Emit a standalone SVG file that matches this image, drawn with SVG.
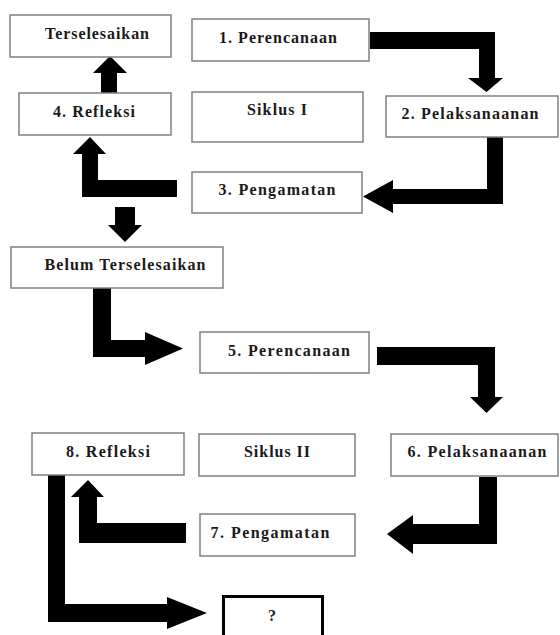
<svg xmlns="http://www.w3.org/2000/svg" width="560" height="635" viewBox="0 0 560 635" font-family="'Liberation Serif', 'Times New Roman', serif" font-weight="bold" font-size="16">
<style>
.box{fill:#fff;stroke:#808080;stroke-width:1.5}
.q{fill:#fff;stroke:#000;stroke-width:3}
.t{fill:#1a1a1a;text-anchor:middle}
.arr{fill:#000}
</style>
<rect width="560" height="635" fill="#fff"/>
<g id="connectors">
<polygon class="arr" points="370,32 495,32 495,78 503,78 486.5,92 468,78 479,78 479,49 370,49"/>
<polygon class="arr" points="487,137 503,137 503,204 393,204 393,213 363,196.5 393,180 393,189 487,189"/>
<polygon class="arr" points="177,180 177,197 82,197 82,154 73,154 90,137 106,154 98,154 98,180"/>
<polygon class="arr" points="101,93 117,93 117,73 127,73 110,56 93,73 101,73"/>
<polygon class="arr" points="115,207 135,207 135,225 142,225 125,242 108,225 115,225"/>
<polygon class="arr" points="93,288 111,288 111,340 145,340 145,332 183,348.5 145,365 145,357 93,357"/>
<polygon class="arr" points="377,347 495,347 495,397 503,397 486.5,413 470,397 478,397 478,365 377,365"/>
<polygon class="arr" points="479,477 497,477 497,544 413,544 413,554 387,534 413,515 413,524 479,524"/>
<polygon class="arr" points="186,523 186,543 79,543 79,497 71,497 88,480 104,497 97,497 97,523"/>
<polygon class="arr" points="48,475 65,475 65,604 167,604 167,597 207,613 167,629 167,622 48,622"/>
</g>
<g id="terselesaikan"><rect class="box" x="10" y="15" width="161" height="42"/><text class="t" x="97" y="39" textLength="104" lengthAdjust="spacing">Terselesaikan</text></g>
<g id="perencanaan1"><rect class="box" x="192" y="19" width="177" height="42"/><text class="t" x="278" y="43" textLength="118" lengthAdjust="spacing">1. Perencanaan</text></g>
<g id="refleksi4"><rect class="box" x="19" y="93" width="152" height="42"/><text class="t" x="94" y="117" textLength="82" lengthAdjust="spacing">4. Refleksi</text></g>
<g id="siklus1"><rect class="box" x="192" y="92" width="171" height="50"/><text class="t" x="277" y="115" textLength="60" lengthAdjust="spacing">Siklus I</text></g>
<g id="pelaksanaan2"><rect class="box" x="386" y="96" width="172" height="41"/><text class="t" x="470" y="119" textLength="137" lengthAdjust="spacing">2. Pelaksanaanan</text></g>
<g id="pengamatan3"><rect class="box" x="192" y="172" width="170" height="41"/><text class="t" x="277" y="195" textLength="117" lengthAdjust="spacing">3. Pengamatan</text></g>
<g id="belum"><rect class="box" x="11" y="247" width="212" height="41"/><text class="t" x="125" y="270" textLength="161" lengthAdjust="spacing">Belum Terselesaikan</text></g>
<g id="perencanaan5"><rect class="box" x="200" y="332" width="169" height="41"/><text class="t" x="289" y="356" textLength="122" lengthAdjust="spacing">5. Perencanaan</text></g>
<g id="refleksi8"><rect class="box" x="32" y="433" width="152" height="42"/><text class="t" x="108" y="457" textLength="84" lengthAdjust="spacing">8. Refleksi</text></g>
<g id="siklus2"><rect class="box" x="199" y="434" width="156" height="42"/><text class="t" x="277" y="457" textLength="66" lengthAdjust="spacing">Siklus II</text></g>
<g id="pelaksanaan6"><rect class="box" x="391" y="434" width="167" height="42"/><text class="t" x="477" y="457" textLength="139" lengthAdjust="spacing">6. Pelaksanaanan</text></g>
<g id="pengamatan7"><rect class="box" x="200" y="514" width="155" height="42"/><text class="t" x="270" y="538" textLength="119" lengthAdjust="spacing">7. Pengamatan</text></g>
<g id="tanya"><rect class="q" x="223.5" y="596.5" width="99" height="45"/><text class="t" x="272" y="621">?</text></g>
</svg>
